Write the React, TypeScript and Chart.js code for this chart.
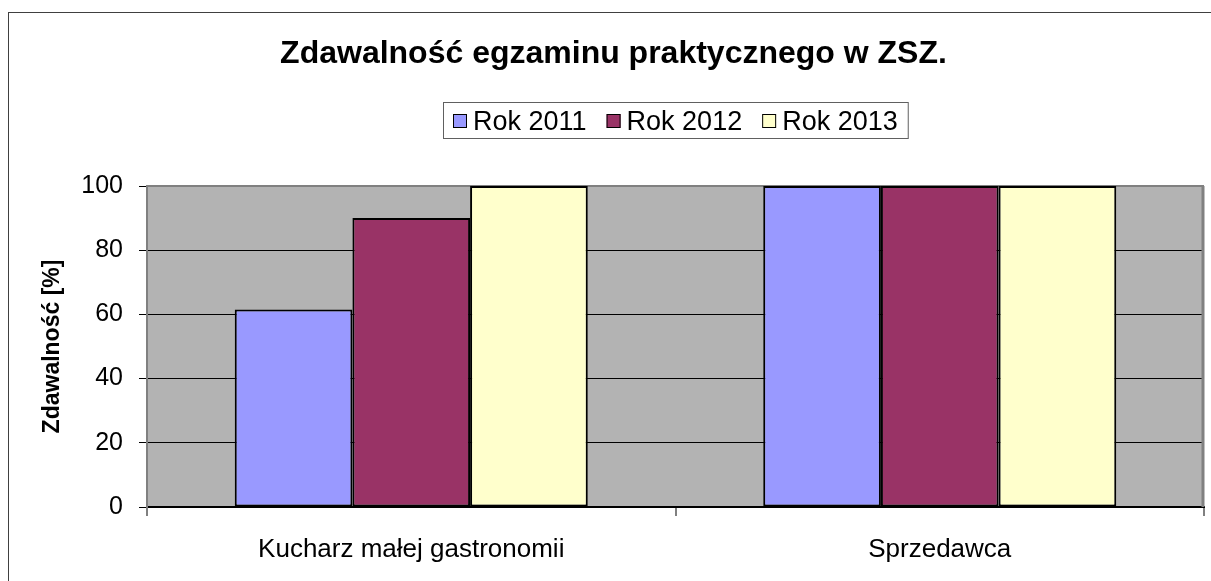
import React, { useEffect, useRef } from "react";
import { Chart, registerables } from "chart.js";

Chart.register(...registerables);

const categories = ["Kucharz małej gastronomii", "Sprzedawca"];
const seriesLabels = ["Rok 2011", "Rok 2012", "Rok 2013"];
const rok2011 = [61.5, 100];
const rok2012 = [90, 100];
const rok2013 = [100, 100];
const seriesColors = ["#9999FF", "#993366", "#FFFFCC"];
const yMin = 0;
const yMax = 100;
const yStep = 20;
const titleText = "Zdawalność egzaminu praktycznego w ZSZ.";
const yAxisTitle = "Zdawalność [%]";

const FONT = "'Liberation Sans', Arial, sans-serif";

const decorPlugin = {
  id: "decor",
  beforeDraw(chart: any) {
    const { ctx, chartArea, width, height } = chart;
    ctx.save();
    ctx.fillStyle = "#ffffff";
    ctx.fillRect(0, 0, width, height);
    // outer frame
    ctx.strokeStyle = "#404040";
    ctx.lineWidth = 1;
    ctx.strokeRect(8.5, 12.5, 1220, 620);
    // plot background
    ctx.fillStyle = "#B3B3B3";
    ctx.fillRect(chartArea.left, chartArea.top, chartArea.right - chartArea.left, chartArea.bottom - chartArea.top);
    // title
    ctx.fillStyle = "#000";
    ctx.font = `bold 32px ${FONT}`;
    ctx.textAlign = "center";
    ctx.textBaseline = "alphabetic";
    ctx.fillText(titleText, 613.5, 62.5);
    // legend
    const ds = chart.data.datasets;
    ctx.font = `27px ${FONT}`;
    const pad = 10, sq = 14, gap = 6, itemGap = 20;
    const widths = ds.map((d: any) => ctx.measureText(d.label).width);
    let total = pad * 2 + itemGap * (ds.length - 1);
    widths.forEach((w: number) => (total += sq + gap + w));
    const cx = (chartArea.left + chartArea.right) / 2;
    const lx = Math.round(cx - total / 2);
    const ly = 102, lh = 36;
    ctx.strokeStyle = "#606060";
    ctx.lineWidth = 1;
    ctx.strokeRect(lx + 0.5, ly + 0.5, total, lh);
    let x = lx + pad;
    const baseline = 130;
    ctx.textAlign = "left";
    ds.forEach((d: any, i: number) => {
      const sy = baseline - 16;
      ctx.fillStyle = d.backgroundColor;
      ctx.fillRect(x, sy, sq, sq);
      ctx.strokeStyle = "#000";
      ctx.lineWidth = 1;
      ctx.strokeRect(x + 0.5, sy + 0.5, sq - 1, sq - 1);
      x += sq + gap;
      ctx.fillStyle = "#000";
      ctx.fillText(d.label, x, baseline);
      x += widths[i] + itemGap;
    });
    ctx.restore();
  },
  beforeDatasetsDraw(chart: any) {
    const { ctx, chartArea } = chart;
    ctx.save();
    ctx.strokeStyle = "#808080";
    ctx.lineWidth = 2;
    ctx.beginPath();
    ctx.moveTo(chartArea.left, chartArea.top);
    ctx.lineTo(chartArea.right, chartArea.top);
    ctx.stroke();
    ctx.lineWidth = 3;
    ctx.beginPath();
    ctx.moveTo(chartArea.right - 1, chartArea.top);
    ctx.lineTo(chartArea.right - 1, chartArea.bottom);
    ctx.stroke();
    ctx.restore();
  },
};

export default function App() {
  const ref = useRef<HTMLCanvasElement>(null);
  useEffect(() => {
    document.body.style.margin = "0";
    const canvas = ref.current!;
    const chart = new Chart(canvas, {
      type: "bar",
      data: {
        labels: categories,
        datasets: [rok2011, rok2012, rok2013].map((vals, i) => ({
          label: seriesLabels[i],
          data: vals,
          backgroundColor: seriesColors[i],
          borderColor: "#000",
          borderWidth: 2,
          borderSkipped: false,
          categoryPercentage: 0.668,
          barPercentage: 1.0,
        })),
      },
      options: {
        responsive: false,
        animation: false,
        devicePixelRatio: 1,
        layout: { padding: { top: 186, right: 7, bottom: 0, left: 0 } },
        plugins: {
          legend: { display: false },
          title: { display: false },
          tooltip: { enabled: false },
        },
        scales: {
          x: {
            type: "category",
            offset: true,
            grid: {
              display: true,
              drawOnChartArea: false,
              offset: true,
              tickLength: 9,
              color: "#808080",
              lineWidth: 2,
            },
            border: { display: true, color: "#000", width: 2 },
            ticks: {
              font: { family: FONT, size: 26 },
              color: "#000",
              padding: 18,
              maxRotation: 0,
              autoSkip: false,
            },
            afterFit: (s: any) => {
              s.height = 74;
            },
          },
          y: {
            min: yMin,
            max: yMax,
            ticks: {
              stepSize: yStep,
              font: { family: FONT, size: 25 },
              color: "#000",
              padding: 16,
            },
            grid: {
              color: (c: any) => (c.tick && c.tick.value === yMax ? "rgba(0,0,0,0)" : "#000"),
              tickColor: "#000",
              tickLength: 8,
              lineWidth: 1,
            },
            border: { display: true, color: "#808080", width: 2 },
            title: {
              display: true,
              text: yAxisTitle,
              font: { family: FONT, size: 23, weight: "bold" },
              color: "#000",
              padding: { top: 39, bottom: 0 },
            },
            afterFit: (s: any) => {
              s.width = 147;
            },
          },
        },
      },
      plugins: [decorPlugin],
    } as any);
    return () => chart.destroy();
  }, []);
  return (
    <div style={{ width: 1211, height: 581 }}>
      <canvas ref={ref} width={1211} height={581} style={{ display: "block" }} />
    </div>
  );
}
